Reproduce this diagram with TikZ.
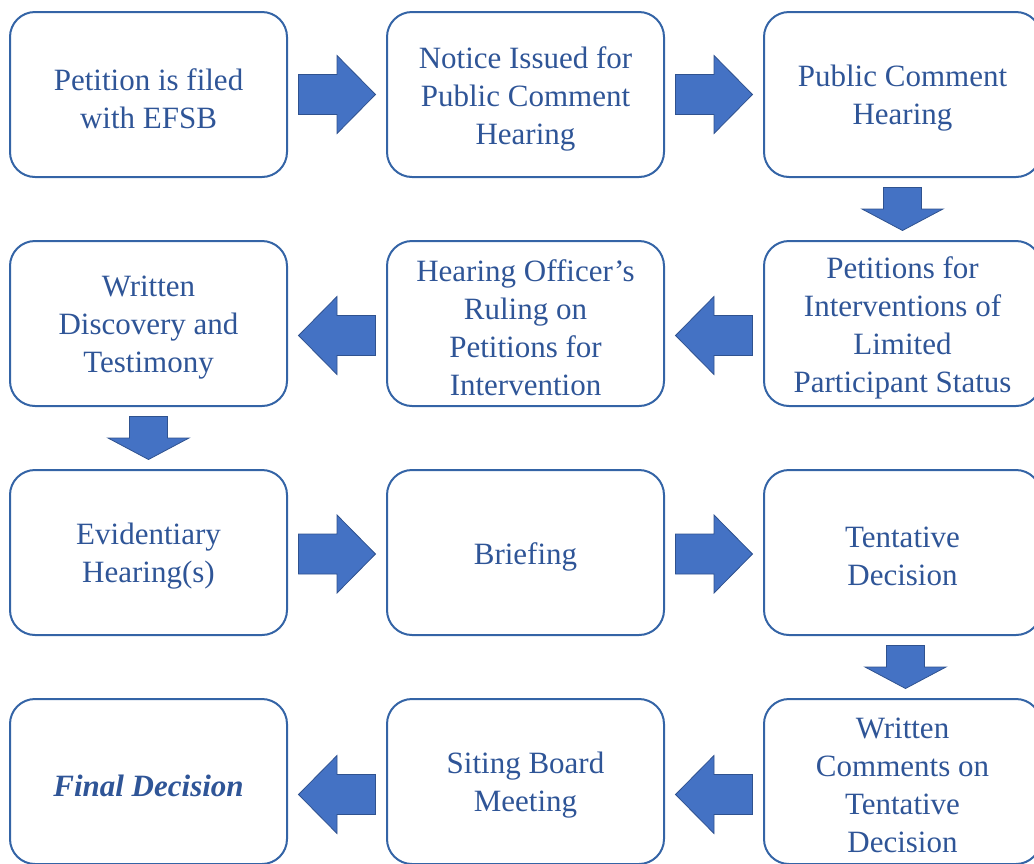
\documentclass[tikz,border=0pt]{standalone}
\usepackage{fontspec}
\setmainfont{Liberation Serif}
\usetikzlibrary{calc}
\definecolor{txtblue}{HTML}{2F5597}
\definecolor{boxblue}{HTML}{3464A6}
\definecolor{arrfill}{HTML}{4472C4}
\definecolor{arredge}{HTML}{2F528F}
\tikzset{
  stepbox/.style={draw=boxblue, line width=2pt, rounded corners=25pt,
    minimum width=277pt, minimum height=165pt, inner sep=0pt},
  steptext/.style={align=center, text=txtblue, inner sep=0pt, yshift=-4pt,
    font=\fontsize{31}{38}\selectfont},
  arrstyle/.style={fill=arrfill, draw=arredge, line width=0.8pt, line join=miter},
  harrow/.pic={\filldraw[arrstyle] (-38.5,-20) -- (0,-20) -- (0,-39) -- (38.5,0) -- (0,39) -- (0,20) -- (-38.5,20) -- cycle;},
  darrow/.pic={\filldraw[arrstyle] (-19,-21.5) -- (19,-21.5) -- (19,0) -- (40.5,0) -- (0,21.5) -- (-40.5,0) -- (-19,0) -- cycle;}
}
\begin{document}
\begin{tikzpicture}[x=1pt,y=-1pt]
\useasboundingbox (0,0) rectangle (1034,863);
% row 1
\node[stepbox, label={[steptext]center:Petition is filed\\with EFSB}] (a1) at (148.5,94.5) {};
\node[stepbox, label={[steptext]center:Notice Issued for\\Public Comment\\Hearing}] (a2) at (525.5,94.5) {};
\node[stepbox, label={[steptext]center:Public Comment\\Hearing}] (a3) at (902.5,94.5) {};
% row 2
\node[stepbox, label={[steptext]center:Petitions for\\Interventions of\\Limited\\Participant Status}] (b3) at (902.5,323.5) {};
\node[stepbox, label={[steptext]center:Hearing Officer’s\\Ruling on\\Petitions for\\Intervention}] (b2) at (525.5,323.5) {};
\node[stepbox, label={[steptext]center:Written\\Discovery and\\Testimony}] (b1) at (148.5,323.5) {};
% row 3
\node[stepbox, label={[steptext]center:Evidentiary\\Hearing(s)}] (c1) at (148.5,552.5) {};
\node[stepbox, label={[steptext]center:Briefing}] (c2) at (525.5,552.5) {};
\node[stepbox, label={[steptext]center:Tentative\\Decision}] (c3) at (902.5,552.5) {};
% row 4
\node[stepbox, label={[steptext]center:Written\\Comments on\\Tentative\\Decision}] (d3) at (902.5,781.5) {};
\node[stepbox, label={[steptext]center:Siting Board\\Meeting}] (d2) at (525.5,781.5) {};
\node[stepbox, label={[steptext]center:\textbf{\textit{Final Decision}}}] (d1) at (148.5,781.5) {};
% arrows
\path ($(a1.east)!0.5!(a2.west)$) pic {harrow};
\path ($(a2.east)!0.5!(a3.west)$) pic {harrow};
\path ($(a3.south)!0.5!(b3.north)$) pic {darrow};
\path ($(b3.west)!0.5!(b2.east)+(0,12)$) pic[rotate=180] {harrow};
\path ($(b2.west)!0.5!(b1.east)+(0,12)$) pic[rotate=180] {harrow};
\path ($(b1.south)!0.5!(c1.north)$) pic {darrow};
\path ($(c1.east)!0.5!(c2.west)+(0,1.5)$) pic {harrow};
\path ($(c2.east)!0.5!(c3.west)+(0,1.5)$) pic {harrow};
\path ($(c3.south)!0.5!(d3.north)+(3,0)$) pic {darrow};
\path ($(d3.west)!0.5!(d2.east)+(0,13)$) pic[rotate=180] {harrow};
\path ($(d2.west)!0.5!(d1.east)+(0,13)$) pic[rotate=180] {harrow};
\end{tikzpicture}
\end{document}
